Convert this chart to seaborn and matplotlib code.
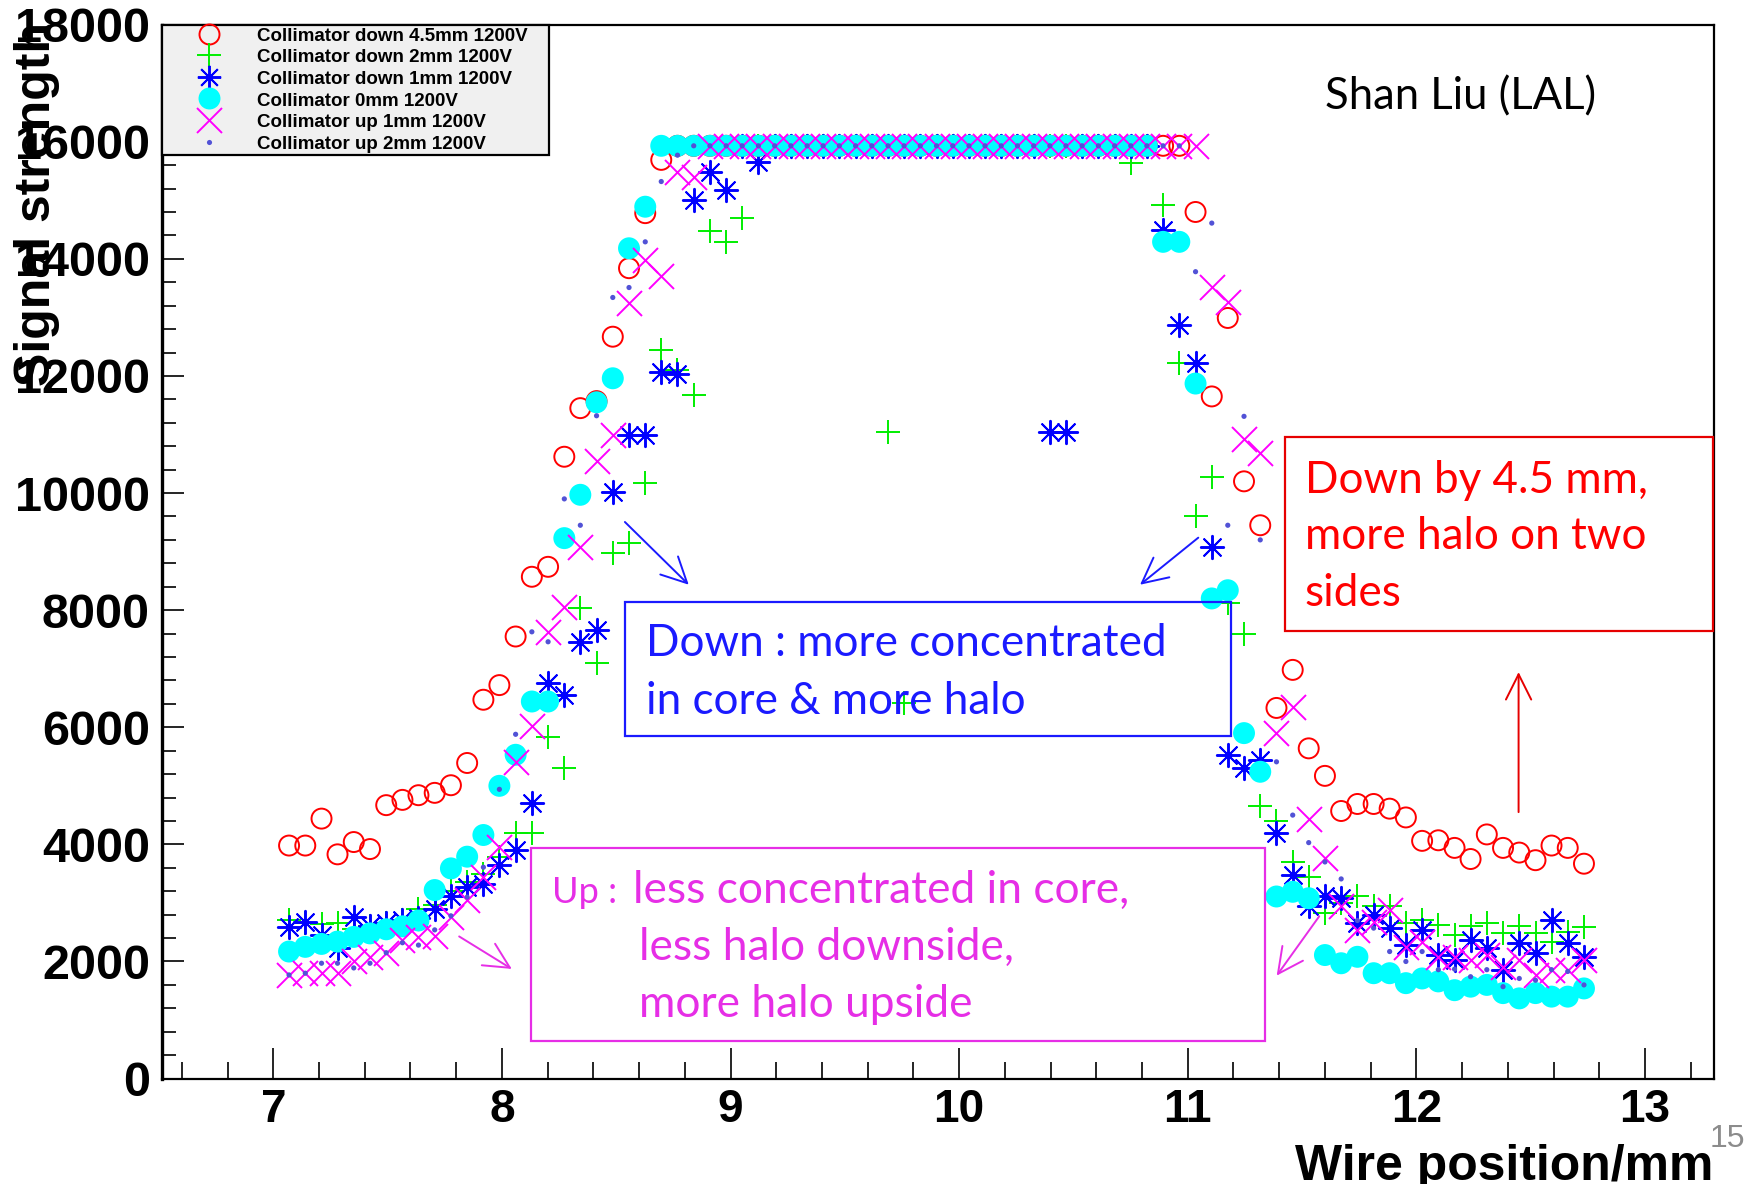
import numpy as np
import pandas as pd
import matplotlib
matplotlib.use("Agg")
import matplotlib.pyplot as plt
import seaborn as sns
from matplotlib.lines import Line2D
from matplotlib.patches import Rectangle
from matplotlib.ticker import MultipleLocator, FixedLocator
from matplotlib import font_manager as fm
from matplotlib.font_manager import FontProperties

# ---------------------------------------------------------------- DATA
wire_pos = [7.069, 7.140, 7.211, 7.281, 7.352, 7.423, 7.494, 7.565, 7.635, 7.706,
            7.777, 7.848, 7.919, 7.989, 8.060, 8.131, 8.202, 8.273, 8.343, 8.414,
            8.485, 8.556, 8.627, 8.697, 8.768, 8.839, 8.910, 8.981, 9.051, 9.122,
            9.193, 9.264, 9.335, 9.405, 9.476, 9.547, 9.618, 9.689, 9.759, 9.830,
            9.901, 9.972, 10.043, 10.113, 10.184, 10.255, 10.326, 10.397, 10.467, 10.538,
            10.609, 10.680, 10.751, 10.821, 10.892, 10.963, 11.034, 11.105, 11.175, 11.246,
            11.317, 11.388, 11.459, 11.529, 11.600, 11.671, 11.742, 11.813, 11.883, 11.954,
            12.025, 12.096, 12.167, 12.237, 12.308, 12.379, 12.450, 12.521, 12.591, 12.662,
            12.733]

down_4p5mm = [3980, 3980, 4440, 3830, 4040, 3920, 4670, 4760, 4840, 4880,
              5010, 5390, 6470, 6720, 7550, 8570, 8740, 10620, 11450, 11570,
              12670, 13840, 14780, 15690, 15930, 15930, 15930, 15930, 15930, 15930,
              15930, 15930, 15930, 15930, 15930, 15930, 15930, 15930, 15930, 15930,
              15930, 15930, 15930, 15930, 15930, 15930, 15930, 15930, 15930, 15930,
              15930, 15930, 15930, 15930, 15930, 15930, 14800, 11650, 12990, 10200,
              9450, 6330, 6980, 5640, 5170, 4570, 4690, 4690, 4610, 4460,
              4060, 4070, 3940, 3750, 4170, 3940, 3860, 3730, 3980, 3940,
              3670]

down_2mm = [2700, 2650, 2640, 2660, 2550, 2600, 2650, 2700, 2900, 2960,
            3200, 3360, 3500, 3790, 4190, 4200, 5840, 5300, 8030, 7090,
            8970, 9140, 10170, 12440, 12100, 11670, 14470, 14290, 14690, 15930,
            15930, 15930, 15930, 15930, 15930, 15930, 15930, 11040, 6410, 15930,
            15930, 15930, 15930, 15930, 15930, 15930, 15930, 15930, 15930, 15930,
            15930, 15930, 15630, 15930, 14920, 12220, 9600, 10280, 8120, 7600,
            4660, 4400, 3700, 3450, 2820, 3000, 3110, 2940, 2940, 2650,
            2700, 2620, 2450, 2600, 2650, 2480, 2600, 2480, 2340, 2500,
            2590]

down_1mm = [2590, 2680, 2450, 2230, 2760, 2600, 2650, 2700, 2750, 2900,
            3110, 3280, 3330, 3650, 3900, 4700, 6750, 6550, 7460, 7660,
            10020, 10990, 10990, 12060, 12040, 15000, 15490, 15180, 15930, 15660,
            15930, 15930, 15930, 15930, 15930, 15930, 15930, 15930, 15930, 15930,
            15930, 15930, 15930, 15930, 15930, 15930, 15930, 11040, 11040, 15930,
            15930, 15930, 15930, 15930, 14490, 12870, 12220, 9080, 5530, 5300,
            5440, 4190, 3480, 2940, 3110, 3080, 2650, 2790, 2570, 2280,
            2540, 2110, 2030, 2370, 2230, 1860, 2310, 2140, 2710, 2310,
            2080]

zero_mm = [2170, 2250, 2300, 2340, 2420, 2480, 2550, 2600, 2700, 3220,
           3590, 3790, 4160, 5000, 5530, 6440, 6440, 9230, 9970, 11550,
           11960, 14180, 14890, 15930, 15930, 15930, 15930, 15930, 15930, 15930,
           15930, 15930, 15930, 15930, 15930, 15930, 15930, 15930, 15930, 15930,
           15930, 15930, 15930, 15930, 15930, 15930, 15930, 15930, 15930, 15930,
           15930, 15930, 15930, 15930, 14290, 14290, 11870, 8200, 8340, 5900,
           5240, 3110, 3190, 3080, 2110, 1970, 2080, 1800, 1800, 1630,
           1710, 1660, 1510, 1570, 1600, 1460, 1370, 1460, 1400, 1400,
           1540]

up_1mm = [1770, 1800, 1800, 1800, 2000, 2080, 2140, 2370, 2420, 2430,
          2760, 3050, 3450, 3960, 5410, 6030, 7630, 8050, 9080, 10540,
          10990, 13240, 13980, 13700, 15490, 15400, 15930, 15930, 15930, 15930,
          15930, 15930, 15930, 15930, 15930, 15930, 15930, 15930, 15930, 15930,
          15930, 15930, 15930, 15930, 15930, 15930, 15930, 15930, 15930, 15930,
          15930, 15930, 15930, 15930, 15930, 15930, 15930, 13520, 13270, 10930,
          10680, 5900, 6350, 4440, 3760, 2940, 2540, 2680, 2880, 2250,
          2340, 2080, 2080, 2030, 2110, 1910, 2030, 1770, 1860, 1860,
          2030]

up_2mm = [1770, 1800, 1970, 1970, 1890, 1970, 2150, 2320, 2280, 2540,
          2780, 3100, 3610, 4940, 5880, 7630, 7460, 9900, 9450, 11320,
          13340, 13510, 14290, 15320, 15770, 15930, 15930, 15930, 15930, 15930,
          15930, 15930, 15930, 15930, 15930, 15930, 15930, 15930, 15930, 15930,
          15930, 15930, 15930, 15930, 15930, 15930, 15930, 15930, 15930, 15930,
          15930, 15930, 15930, 15930, 15930, 15930, 13780, 14610, 9450, 11310,
          9200, 5410, 4500, 4030, 3700, 3410, 2700, 2570, 2170, 2000,
          2170, 1860, 1870, 1740, 1860, 1570, 1710, 1680, 1860, 1830,
          1600]

series_labels = ["Collimator down 4.5mm 1200V", "Collimator down 2mm 1200V",
                 "Collimator down 1mm 1200V", "Collimator 0mm 1200V",
                 "Collimator up 1mm 1200V", "Collimator up 2mm 1200V"]

x_ticks = [7, 8, 9, 10, 11, 12, 13]
x_tick_labels = ["7", "8", "9", "10", "11", "12", "13"]
y_ticks = [0, 2000, 4000, 6000, 8000, 10000, 12000, 14000, 16000, 18000]
y_tick_labels = ["0", "2000", "4000", "6000", "8000", "10000", "12000", "14000", "16000", "18000"]

x_label = "Wire position/mm"
y_label = "Signal strength"
credit = "Shan Liu (LAL)"
note_red = ["Down by 4.5 mm,", "more halo on two", "sides"]
note_blue = ["Down : more concentrated", "in core & more halo"]
note_mag_up = "Up :"
note_mag = ["less concentrated in core,", "less halo downside,", "more halo upside"]
page_no = "15"

# ---------------------------------------------------------------- STYLE
sns.set_theme(style="white")
names = {f.name for f in fm.fontManager.ttflist}
SANS = "Liberation Sans" if "Liberation Sans" in names else "DejaVu Sans"
NARROW = "Liberation Sans Narrow" if "Liberation Sans Narrow" in names else None
ANNOT = "Lato" if "Lato" in names else ("Open Sans" if "Open Sans" in names else "DejaVu Sans")
plt.rcParams["font.family"] = [SANS, "DejaVu Sans"]
plt.rcParams.update({"text.color": "black", "axes.labelcolor": "black",
                     "xtick.color": "black", "ytick.color": "black"})

W, H = 1756, 1184
fig = plt.figure(figsize=(W / 100, H / 100), dpi=100)
S = W / 1568.0  # reference preview px -> output px


def D(x, y):
    return (x / 1568.0, 1.0 - y / 1057.0)


AX_W = 1551.2
ax = fig.add_axes([162.4 / W, 1 - 1078.6 / H, AX_W / W, 1054.0 / H])
ax.set_facecolor("white")

df = pd.DataFrame({"pos": wire_pos, "d45": down_4p5mm, "d2": down_2mm, "d1": down_1mm,
                   "z0": zero_mm, "u1": up_1mm, "u2": up_2mm})

STAR = (8, 2, 0)
DOT = "#5252d6"
specs = [
    ("d45", "o", "#ff0000", 207, 1.4),
    ("d2", "+", "#00ee00", 300, 1.4),
    ("d1", STAR, "#0000ff", 282, 1.4),
    ("z0", "o", "#00ffff", 250, 0),
    ("u1", "x", "#ff00ff", 324, 1.4),
    ("u2", "o", DOT, 14, 0),
]
for col, mk, colr, size, lw in specs:
    if col == "d45":
        sns.scatterplot(data=df, x="pos", y=col, ax=ax, marker=mk, s=size,
                        color=colr, edgecolor=colr, linewidth=lw, legend=False)
        ax.collections[-1].set_facecolor("none")
    elif lw == 0:
        sns.scatterplot(data=df, x="pos", y=col, ax=ax, marker=mk, s=size,
                        color=colr, edgecolor="none", linewidth=0, legend=False)
    else:
        sns.scatterplot(data=df, x="pos", y=col, ax=ax, marker=mk, s=size,
                        color=colr, linewidth=lw, legend=False)

ax.set_xlim(6.515, 13.30)
ax.set_ylim(0, 18000)
ax.set_xlabel("")
ax.set_ylabel("")

for sp in ax.spines.values():
    sp.set_visible(True)
    sp.set_color("black")
    sp.set_linewidth(1.6)
ax.spines["left"].set_linewidth(2.4)

ax.xaxis.set_major_locator(FixedLocator(x_ticks))
ax.set_xticklabels(x_tick_labels)
ax.xaxis.set_minor_locator(MultipleLocator(0.2))
ax.yaxis.set_major_locator(FixedLocator(y_ticks))
ax.set_yticklabels(y_tick_labels)
ax.yaxis.set_minor_locator(MultipleLocator(400))

ax.tick_params(axis="x", which="major", direction="in", length=22, width=1.2, color="black",
               bottom=True, top=False, pad=7, labelcolor="black")
ax.tick_params(axis="x", which="minor", direction="in", length=12, width=1.2, color="black",
               bottom=True, top=False)
ax.tick_params(axis="y", which="major", direction="in", length=16, width=1.2, color="black",
               left=True, right=False, pad=9, labelcolor="black")
ax.tick_params(axis="y", which="minor", direction="in", length=10, width=1.2, color="black",
               left=True, right=False)

for lab in ax.get_yticklabels():
    lab.set_fontfamily([SANS, "DejaVu Sans"])
    lab.set_fontweight("bold")
    lab.set_fontsize(35)
for lab in ax.get_xticklabels():
    if NARROW:
        lab.set_fontfamily([NARROW, SANS])
        lab.set_fontsize(42)
    else:
        lab.set_fontfamily([SANS, "DejaVu Sans"])
        lab.set_fontsize(33)
    lab.set_fontweight("bold")

# ---------------------------------------------------------------- legend
handles = [
    Line2D([], [], ls="none", marker="o", ms=14.4, mfc="none", mec="#ff0000", mew=1.4),
    Line2D([], [], ls="none", marker="+", ms=17.3, mec="#00ee00", mew=1.4),
    Line2D([], [], ls="none", marker=STAR, ms=16.8, mec="#0000ff", mew=1.4),
    Line2D([], [], ls="none", marker="o", ms=15.8, mfc="#00ffff", mec="none"),
    Line2D([], [], ls="none", marker="x", ms=18, mec="#ff00ff", mew=1.4),
    Line2D([], [], ls="none", marker="o", ms=3.7, mfc=DOT, mec="none"),
]
leg_w = 345 * S / AX_W
leg = ax.legend(handles, series_labels, loc="upper left", bbox_to_anchor=(0, 0, leg_w, 1),
                mode="expand", borderaxespad=0, frameon=True, fancybox=False,
                edgecolor="black", facecolor="#f0f0f0", framealpha=1,
                prop=FontProperties(family=[SANS, "DejaVu Sans"], weight="bold", size=13.5),
                handlelength=4.8, handletextpad=0.17, borderpad=0.1,
                labelspacing=0.18, handleheight=0.9)
leg.get_frame().set_linewidth(1.6)

# ---------------------------------------------------------------- texts
renderer = fig.canvas.get_renderer()


def fit_w(t, target):
    bb = t.get_window_extent(renderer=renderer)
    t.set_fontsize(t.get_fontsize() * target * S / bb.width)
    return t.get_fontsize()


def fit_h(t, target):
    bb = t.get_window_extent(renderer=renderer)
    t.set_fontsize(t.get_fontsize() * target * S / bb.height)
    return t.get_fontsize()


# axis labels
yl = fig.text(*D(33, 20), y_label, rotation=90, ha="center", va="top",
              fontweight="bold", fontsize=36, family=[SANS, "DejaVu Sans"], color="black")
fit_h(yl, 325)
xfam = [NARROW, SANS] if NARROW else [SANS, "DejaVu Sans"]
xl = fig.text(*D(1530, 1053), x_label, ha="right", va="baseline",
              fontweight="bold", fontsize=44, family=xfam, color="black")
fit_w(xl, 373)

pg = fig.text(*D(1527, 1024), page_no, ha="left", va="baseline", fontsize=23,
              family=xfam, color="#8c8c8c")

# credit
cr = fig.text(*D(1183, 98), credit, ha="left", va="baseline", fontsize=30,
              family=[ANNOT, "DejaVu Sans"], color="black")
fit_w(cr, 242)

# red note
RED = "#ff0000"
t0 = fig.text(*D(1165, 440), note_red[0], ha="left", va="baseline", fontsize=30,
              family=[ANNOT, "DejaVu Sans"], color=RED)
fs_r = fit_w(t0, 305)
for txt, yb in zip(note_red[1:], [490, 541]):
    fig.text(*D(1165, yb), txt, ha="left", va="baseline", fontsize=fs_r,
             family=[ANNOT, "DejaVu Sans"], color=RED)

# blue note
BLUE = "#1a1aff"
b0 = fig.text(*D(577, 586), note_blue[0], ha="left", va="baseline", fontsize=30,
              family=[ANNOT, "DejaVu Sans"], color=BLUE)
fs_b = fit_w(b0, 464)
fig.text(*D(577, 637), note_blue[1], ha="left", va="baseline", fontsize=fs_b,
         family=[ANNOT, "DejaVu Sans"], color=BLUE)

# magenta note
MAG = "#e62ee6"
m1 = fig.text(*D(565, 806), note_mag[0], ha="left", va="baseline", fontsize=30,
              family=[ANNOT, "DejaVu Sans"], color=MAG)
fs_m = fit_w(m1, 442)
fig.text(*D(493, 806), note_mag_up, ha="left", va="baseline", fontsize=fs_m * 0.82,
         family=[ANNOT, "DejaVu Sans"], color=MAG)
for txt, yb in zip(note_mag[1:], [857, 908]):
    fig.text(*D(571, yb), txt, ha="left", va="baseline", fontsize=fs_m,
             family=[ANNOT, "DejaVu Sans"], color=MAG)


# boxes
def box(x0, y0, x1, y1, col):
    (fx0, fy1), (fx1, fy0) = D(x0, y0), D(x1, y1)
    fig.add_artist(Rectangle((fx0, fy0), fx1 - fx0, fy1 - fy0, transform=fig.transFigure,
                             fill=False, edgecolor=col, linewidth=1.6, zorder=10))


box(1147, 390, 1530, 563, "#e60000")
box(558, 537, 1099, 657, BLUE)
box(474, 757, 1130, 929, MAG)


def arrow(tail, head, col):
    ax.annotate("", xy=D(*head), xycoords="figure fraction", xytext=D(*tail),
                textcoords="figure fraction",
                arrowprops=dict(arrowstyle="->,head_length=0.7,head_width=0.35",
                                color=col, lw=1.4, shrinkA=0, shrinkB=0,
                                mutation_scale=26), zorder=10)


arrow((1356, 725), (1356, 600), "#e60000")
arrow((558, 466), (615, 522), BLUE)
arrow((1070, 480), (1018, 522), BLUE)
arrow((410, 836), (457, 865), MAG)
arrow((1178, 818), (1140, 871), MAG)

fig.savefig("out.png", dpi=100)
